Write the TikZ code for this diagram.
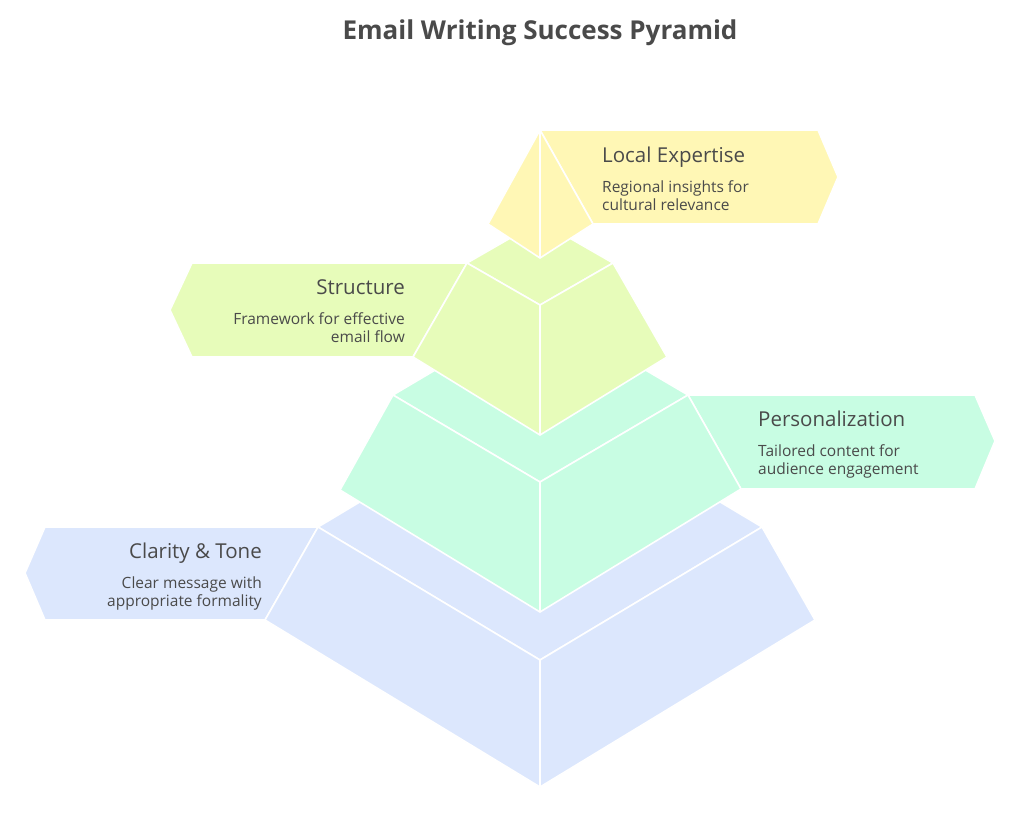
\documentclass[tikz,border=0pt]{standalone}
\usepackage{fontspec}
\setmainfont{Open Sans}
\usepackage{xcolor}
\usepackage{tikz}

\definecolor{ink}{HTML}{4A4A4A}
\definecolor{expertisebg}{HTML}{FFF7B5}
\definecolor{structurebg}{HTML}{E7FCBA}
\definecolor{personalbg}{HTML}{C8FDE3}
\definecolor{claritybg}{HTML}{DCE7FD}

\begin{document}
\begin{tikzpicture}[x=1pt, y=-1pt,
    face/.style={draw=white, line width=1.6pt, line join=round},
    heading/.style={inner sep=0pt, text=ink, font=\fontsize{20.5}{24}\selectfont},
    blurb/.style={inner sep=0pt, text=ink, font=\fontsize{15.5}{18}\selectfont}]
    \useasboundingbox (0,0) rectangle (1020,814);

    \node[inner sep=0pt, anchor=base, text=ink, font=\bfseries\fontsize{26}{30}\selectfont]
        (title) at (540,39) {Email Writing Success Pyramid};

    % bottom layer
    \filldraw[face, fill=claritybg] (318,527) -- (45,527) -- (25,573) -- (45,620) -- (265,620) -- cycle;
    \filldraw[face, fill=claritybg] (318,527) -- (540,394) -- (762,527) -- (540,660) -- cycle;
    \filldraw[face, fill=claritybg] (318,527) -- (265,620) -- (540,787) -- (540,660) -- cycle;
    \filldraw[face, fill=claritybg] (762,527) -- (815,620) -- (540,787) -- (540,660) -- cycle;

    % third layer
    \filldraw[face, fill=personalbg] (688,395) -- (975,395) -- (995,441) -- (975,489) -- (741,489) -- cycle;
    \filldraw[face, fill=personalbg] (393,395) -- (540,308) -- (688,395) -- (540,482) -- cycle;
    \filldraw[face, fill=personalbg] (393,395) -- (340,490) -- (540,612) -- (540,482) -- cycle;
    \filldraw[face, fill=personalbg] (688,395) -- (741,489) -- (540,612) -- (540,482) -- cycle;

    % second layer
    \filldraw[face, fill=structurebg] (467,263) -- (192,263) -- (170,310) -- (192,357) -- (413,357) -- cycle;
    \filldraw[face, fill=structurebg] (467,263) -- (540,221) -- (613,263) -- (540,305) -- cycle;
    \filldraw[face, fill=structurebg] (467,263) -- (413,357) -- (540,435) -- (540,305) -- cycle;
    \filldraw[face, fill=structurebg] (613,263) -- (667,357) -- (540,435) -- (540,305) -- cycle;

    % tip
    \filldraw[face, fill=expertisebg] (540,130) -- (818,130) -- (838,177) -- (818,224) -- (593,224) -- cycle;
    \filldraw[face, fill=expertisebg] (540,130) -- (488,224) -- (540,258) -- cycle;
    \filldraw[face, fill=expertisebg] (540,130) -- (593,224) -- (540,258) -- cycle;

    % labels (multi-line nodes sit on their last baseline)
    \node[heading, anchor=base west] (expertisehead) at (602,162) {Local Expertise};
    \node[blurb, anchor=base west, align=left] (expertisetext) at (602,210)
        {Regional insights for\\cultural relevance};

    \node[heading, anchor=base east] (structurehead) at (405,294) {Structure};
    \node[blurb, anchor=base east, align=right] (structuretext) at (405,342)
        {Framework for effective\\email flow};

    \node[heading, anchor=base west] (personalhead) at (758,426) {Personalization};
    \node[blurb, anchor=base west, align=left] (personaltext) at (758,474)
        {Tailored content for\\audience engagement};

    \node[heading, anchor=base east] (clarityhead) at (262,558) {Clarity \& Tone};
    \node[blurb, anchor=base east, align=right] (claritytext) at (262,606)
        {Clear message with\\appropriate formality};
\end{tikzpicture}
\end{document}
